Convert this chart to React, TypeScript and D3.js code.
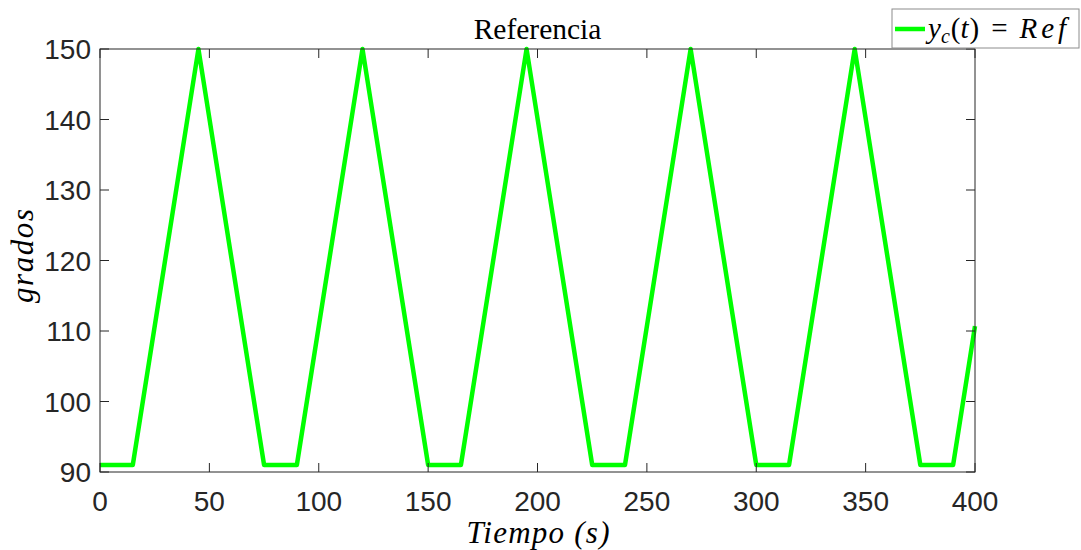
import React, { useEffect, useRef } from 'react';
import * as d3 from 'd3';

// reference signal, breakpoints
const timePoints = [0, 15, 45, 75, 90, 120, 150, 165, 195, 225, 240, 270, 300, 315, 345, 375, 390, 400];
const refValues = [91, 91, 150, 91, 91, 150, 91, 91, 150, 91, 91, 150, 91, 91, 150, 91, 91, 110.7];
const xTicks = [0, 50, 100, 150, 200, 250, 300, 350, 400];
const yTicks = [90, 100, 110, 120, 130, 140, 150];

const W = 1081;
const H = 550;
const margin = { left: 100, right: 106, top: 49, bottom: 78 };
const axisColor = '#262626';
const serif = '"Liberation Serif", "DejaVu Serif", serif';
const sans = '"Liberation Sans", Arial, sans-serif';

export default function App() {
  const ref = useRef<SVGSVGElement>(null);

  useEffect(() => {
    const svg = d3.select(ref.current);
    svg.selectAll('*').remove();

    const x0 = margin.left, x1 = W - margin.right;
    const y0 = H - margin.bottom, y1 = margin.top;
    const x = d3.scaleLinear().domain([0, 400]).range([x0, x1]);
    const y = d3.scaleLinear().domain([90, 150]).range([y0, y1]);

    const g = svg.append('g');

    // the line
    const data = timePoints.map((t, i) => ({ t, v: refValues[i] }));
    const line = d3.line<{ t: number; v: number }>().x(d => x(d.t)).y(d => y(d.v));
    g.append('path')
      .datum(data)
      .attr('d', line)
      .attr('fill', 'none')
      .attr('stroke', '#00ff00')
      .attr('stroke-width', 4.5)
      .attr('stroke-linejoin', 'round');

    // box
    g.append('rect')
      .attr('x', x0).attr('y', y1)
      .attr('width', x1 - x0).attr('height', y0 - y1)
      .attr('fill', 'none')
      .attr('stroke', axisColor)
      .attr('stroke-width', 1);

    const tl = 9;
    // x ticks bottom + top
    xTicks.forEach(t => {
      g.append('line').attr('x1', x(t)).attr('x2', x(t)).attr('y1', y0).attr('y2', y0 - tl)
        .attr('stroke', axisColor);
      g.append('line').attr('x1', x(t)).attr('x2', x(t)).attr('y1', y1).attr('y2', y1 + tl)
        .attr('stroke', axisColor);
      g.append('text').attr('x', x(t)).attr('y', y0 + 39)
        .attr('text-anchor', 'middle')
        .attr('font-family', sans).attr('font-size', 28)
        .attr('fill', axisColor)
        .text(t);
    });
    // y ticks left + right
    yTicks.forEach(v => {
      g.append('line').attr('x1', x0).attr('x2', x0 + tl).attr('y1', y(v)).attr('y2', y(v))
        .attr('stroke', axisColor);
      g.append('line').attr('x1', x1).attr('x2', x1 - tl).attr('y1', y(v)).attr('y2', y(v))
        .attr('stroke', axisColor);
      g.append('text').attr('x', x0 - 9).attr('y', y(v) + 10)
        .attr('text-anchor', 'end')
        .attr('font-family', sans).attr('font-size', 28)
        .attr('fill', axisColor)
        .text(v);
    });

    // title
    g.append('text').attr('x', (x0 + x1) / 2).attr('y', 39)
      .attr('text-anchor', 'middle')
      .attr('font-family', serif).attr('font-size', 29.5)
      .attr('fill', '#000')
      .text('Referencia');

    // x label
    g.append('text').attr('x', (x0 + x1) / 2 - 71).attr('y', 543)
      .attr('font-family', serif).attr('font-size', 31).attr('font-style', 'italic')
      .attr('textLength', 143).attr('lengthAdjust', 'spacing')
      .attr('fill', '#000')
      .text('Tiempo (s)');

    // y label
    g.append('text')
      .attr('transform', `translate(33, 303) rotate(-90)`)
      .attr('font-family', serif).attr('font-size', 31).attr('font-style', 'italic')
      .attr('textLength', 94).attr('lengthAdjust', 'spacing')
      .attr('fill', '#000')
      .text('grados');

    // legend
    const lg = g.append('g');
    lg.append('rect').attr('x', 892).attr('y', 9).attr('width', 187).attr('height', 39)
      .attr('fill', '#fff').attr('stroke', '#8c8c8c').attr('stroke-width', 1);
    lg.append('line').attr('x1', 895).attr('x2', 925).attr('y1', 29).attr('y2', 29)
      .attr('stroke', '#00ff00').attr('stroke-width', 4.5);
    const lt = lg.append('text').attr('x', 928).attr('y', 38)
      .attr('font-family', serif).attr('font-size', 29).attr('fill', '#000');
    lt.append('tspan').attr('font-style', 'italic').text('y');
    lt.append('tspan').attr('font-style', 'italic').attr('font-size', 20).attr('dy', 5).text('c');
    lt.append('tspan').attr('dy', -5).attr('dx', 1).text('(');
    lt.append('tspan').attr('font-style', 'italic').text('t');
    lt.append('tspan').attr('dx', 1).text(')');
    lt.append('tspan').attr('dx', 12).text('=');
    lt.append('tspan').attr('dx', 12).attr('font-style', 'italic').attr('letter-spacing', 4).text('Ref');
  }, []);

  return (
    <div style={{ position: 'fixed', left: 0, top: 0 }}>
      <svg ref={ref} width={W} height={H} style={{ display: 'block', background: '#fff' }} />
    </div>
  );
}
